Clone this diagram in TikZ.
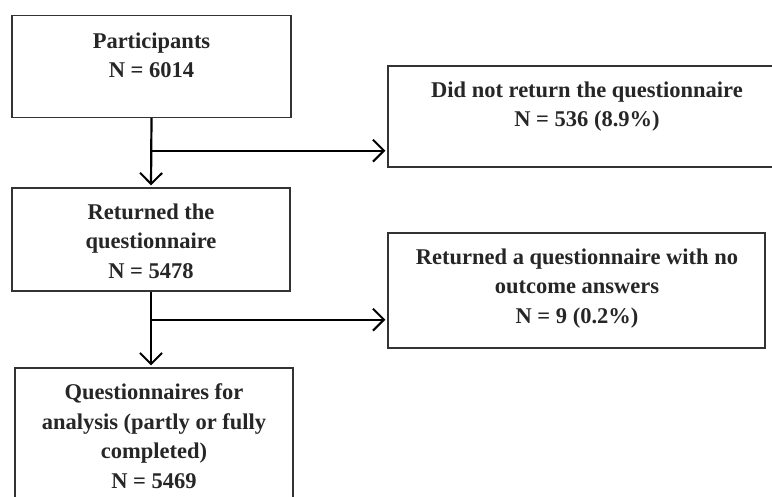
\documentclass[tikz,border=0pt]{standalone}
\usepackage{fontspec}
\setmainfont{Liberation Serif}
\usetikzlibrary{arrows.meta,calc}
\begin{document}
\begin{tikzpicture}[x=1pt,y=-1pt,
  box/.style={draw=black!80, line width=1.3pt, rectangle, inner sep=0pt},
  txt/.style={align=center, font=\fontsize{22.5}{29.5}\selectfont\bfseries, inner sep=0pt, anchor=north, text=black!85},
  arr/.style={line width=2.2pt, shorten >=2pt, -{Straight Barb[length=11pt,width=22pt,line width=2pt]}}]
\useasboundingbox (0,0) rectangle (772,497);
\clip (0,0) rectangle (772,497);
% boxes
\node[box, minimum width=279pt, minimum height=102pt] (b1) at (151.5,66.5) {};
\node[box, minimum width=402pt, minimum height=101pt] (r1) at (589,116.5) {};
\node[box, minimum width=278pt, minimum height=103pt] (b2) at (151,239.5) {};
\node[box, minimum width=377pt, minimum height=115pt] (r2) at (576.5,290.5) {};
\node[box, minimum width=278pt, minimum height=152pt] (b3) at (154,444) {};
% texts
\node[txt] (t1) at (151.5,32.5) {Participants\\N = 6014};
\node[txt] (tr1) at (587,81.5) {Did not return the questionnaire\\N = 536 (8.9\%)};
\node[txt] (t2) at (151,203.5) {Returned the\\questionnaire\\N = 5478};
\node[txt] (tr2) at (577,248.5) {Returned a questionnaire with no\\outcome answers\\N = 9 (0.2\%)};
\node[txt] (t3) at (154,383.5) {Questionnaires for\\analysis (partly or fully\\completed)\\N = 5469};
% connectors
\coordinate (j1) at ($(b1.south)+(0,32.5)$);
\coordinate (j2) at ($(b2.south)+(0,28)$);
\draw[arr] (b1.south) -- (b2.north);
\draw[arr] (j1) -- (j1 -| r1.west);
\draw[arr] (b2.south) -- (b2.south |- b3.north);
\draw[arr] (j2) -- (j2 -| r2.west);
\end{tikzpicture}
\end{document}
